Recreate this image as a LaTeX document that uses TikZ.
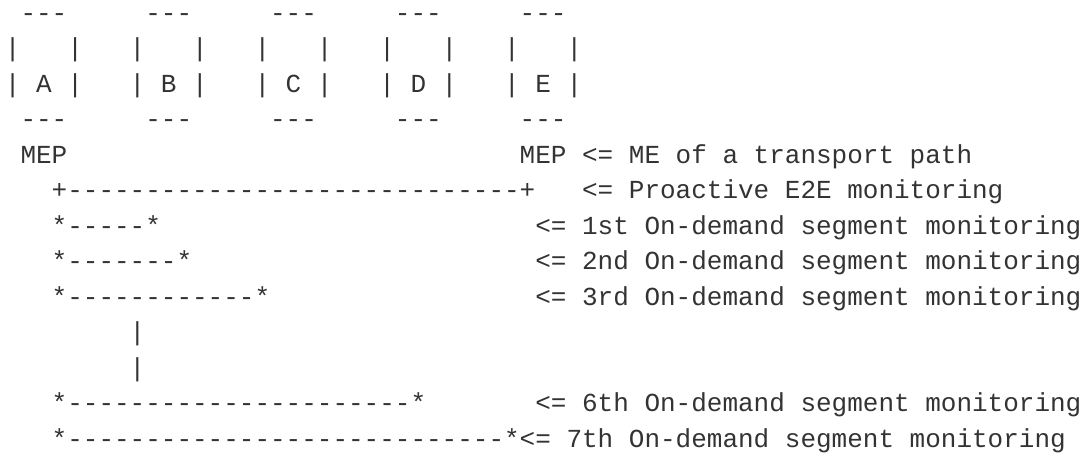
\documentclass[tikz,border=0pt]{standalone}
\usepackage{fontspec}
\setmonofont{Liberation Mono}
\ExplSyntaxOn
\cs_new:Npn \reprun #1#2 { \prg_replicate:nn {#1} {#2} }
\ExplSyntaxOff
\newcommand\dsh[1]{\reprun{#1}{-}}
\definecolor{ink}{HTML}{333333}
\tikzset{
  asc/.style={anchor=base west, inner sep=0pt, outer sep=0pt,
    font=\ttfamily\fontsize{19.5pt}{26pt}\selectfont, text=ink}
}
\begin{document}
\begin{tikzpicture}
\useasboundingbox (0,0) rectangle (813pt,342pt);
\begin{scope}[x=11.7pt, y=-26.625pt, shift={(3.7pt,326.175pt)}]
  % boxes A..E
  \foreach \nm/\c in {A/0,B/8,C/16,D/24,E/32}{
    \node[asc] (top\nm) at (\c+1,0) {---};
    \node[asc] (side\nm) at (\c,1) {|~~~|};
    \node[asc] (box\nm) at (\c,2) {|~\nm~|};
    \node[asc] (bot\nm) at (\c+1,3) {---};
  }
  % MEP line
  \node[asc] (mepA) at (1,4) {MEP};
  \node[asc] (mepE) at (33,4) {MEP};
  \node[asc] (lblme) at (37,4) {<=~ME~of~a~transport~path};
  % proactive E2E
  \node[asc] (e2e) at (3,5) {+\dsh{29}+};
  \node[asc] (lble2e) at (37,5) {<=~Proactive~E2E~monitoring};
  % on-demand segments
  \node[asc] (seg1) at (3,6) {*\dsh{5}*};
  \node[asc] (lbl1) at (34,6) {<=~1st~On-demand~segment~monitoring};
  \node[asc] (seg2) at (3,7) {*\dsh{7}*};
  \node[asc] (lbl2) at (34,7) {<=~2nd~On-demand~segment~monitoring};
  \node[asc] (seg3) at (3,8) {*\dsh{12}*};
  \node[asc] (lbl3) at (34,8) {<=~3rd~On-demand~segment~monitoring};
  \node[asc] (bar1) at (8,9) {|};
  \node[asc] (bar2) at (8,10) {|};
  \node[asc] (seg6) at (3,11) {*\dsh{22}*};
  \node[asc] (lbl6) at (34,11) {<=~6th~On-demand~segment~monitoring};
  \node[asc] (seg7) at (3,12) {*\dsh{28}*};
  \node[asc] (lbl7) at (33,12) {<=~7th~On-demand~segment~monitoring};
\end{scope}
\end{tikzpicture}
\end{document}
